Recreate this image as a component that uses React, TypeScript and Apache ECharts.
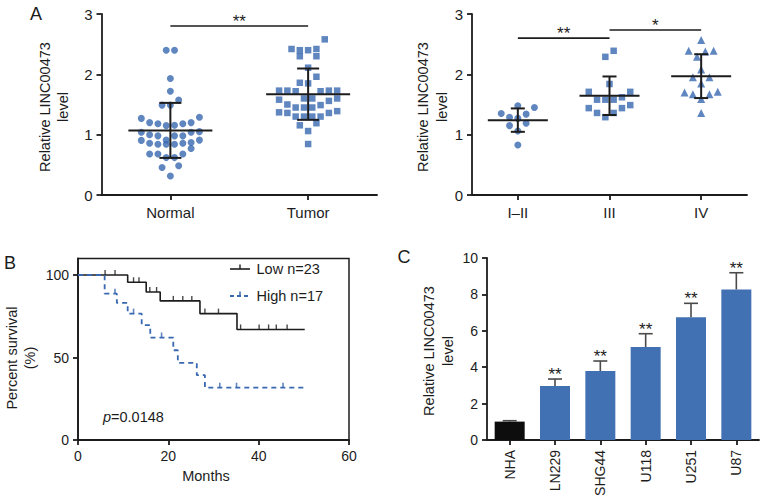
import React, { useEffect, useRef } from "react";
import * as echarts from "echarts";

// ---------- Panel A (left): Normal vs Tumor ----------
const groupNames = ["Normal", "Tumor"];
const normalValues = [
  2.4, 2.4, 1.93, 1.72, 1.575, 1.49, 1.49, 1.29, 1.27, 1.2, 1.2, 1.18, 1.18, 1.155, 1.15,
  1.05, 1.04, 1.04, 1.0, 0.98, 0.98, 0.98, 0.91, 0.91, 0.905, 0.87, 0.857, 0.857, 0.84,
  0.84, 0.84, 0.77, 0.68, 0.68, 0.68, 0.62, 0.62, 0.486, 0.455, 0.315,
];
const tumorValues = [
  2.58, 2.42, 2.4, 2.4, 2.42, 2.3, 2.3, 2.11, 1.96, 1.86, 1.85, 1.73, 1.73, 1.72, 1.72,
  1.73, 1.73, 1.56, 1.6, 1.6, 1.6, 1.58, 1.49, 1.45, 1.45, 1.45, 1.5, 1.39, 1.37, 1.36,
  1.3, 1.3, 1.3, 1.3, 1.36, 1.155, 1.19, 1.06, 0.845,
];
const sigLeft = [[1, 2, 2.8]];
const sigLeftStars = ["**"];

// ---------- Panel A (right): stages ----------
const stageNames = ["I\u2013II", "III", "IV"];
const stage12Values = [1.48, 1.45, 1.35, 1.34, 1.29, 1.27, 1.19, 1.15, 1.06, 0.83];
const stage3Values = [2.39, 2.29, 1.84, 1.71, 1.71, 1.58, 1.58, 1.58, 1.62, 1.49, 1.44, 1.44, 1.36, 1.36, 1.29];
const stage4Values = [2.57, 2.39, 2.38, 2.39, 2.29, 2.08, 1.95, 1.95, 1.85, 1.71, 1.67, 1.67, 1.7, 1.59, 1.36];
const sigRight = [[1, 2, 2.6], [2, 3, 2.735]];
const sigRightStars = ["**", "*"];

// ---------- Panel B: Kaplan-Meier ----------
const lowName = "Low n=23";
const highName = "High n=17";
const lowSteps = [[0, 100], [11, 95.6], [15.1, 89.7], [18.2, 84.3], [27, 76.6], [35.2, 67], [50.2, 67]];
const lowCensored = [6, 8.2, 12.3, 13.5, 15.9, 17.4, 21.1, 23.2, 25.2, 28.1, 31.1, 36.0, 40.1, 42.2, 43.9, 46.3];
const highSteps = [
  [0, 100], [5.9, 88.7], [8.6, 83.1], [11, 76.6], [14.1, 69.6], [16, 62.1], [21.1, 54.4],
  [22.1, 46.8], [26.3, 39.3], [28.1, 31.7], [50.2, 31.7],
];
const highCensored = [8.2, 12.3, 18.5, 31.4, 35.1, 45.4];
const pValueText = "=0.0148";

// ---------- Panel C: cell lines ----------
const cellNames = ["NHA", "LN229", "SHG44", "U118", "U251", "U87"];
const cellValues = [1.01, 2.97, 3.79, 5.11, 6.74, 8.27];
const cellErrors = [0.05, 0.38, 0.55, 0.73, 0.77, 0.92];
const cellStars = ["", "**", "**", "**", "**", "**"];

const FONT = "Liberation Sans, Arial, Helvetica, sans-serif";
const BLUE = "#3868b0";
const BAR_BLUE = "#4271b3";
const INK = "#1c1c1c";
const STAR_SIZE = 17;

// layout of the plot areas (px)
const gA1 = { left: 101.5, top: 14, width: 275.5, height: 181 };
const gA2 = { left: 472, top: 14, width: 275, height: 181 };
const gB = { left: 78, top: 258.5, width: 271, height: 181.5 };
const gC = { left: 487, top: 258, width: 272, height: 182 };

function mean(a: number[]) {
  return a.reduce((s, v) => s + v, 0) / a.length;
}
function sd(a: number[]) {
  const m = mean(a);
  return Math.sqrt(a.reduce((s, v) => s + (v - m) * (v - m), 0) / (a.length - 1));
}

// Row-based dot-plot layout (like a column scatter plot)
function swarmOffsets(values: number[], pxPerY: number, pxPerX: number, d: number, maxRow: number) {
  const idx = values.map((_, i) => i).sort((a, b) => values[a] - values[b]);
  const rows: number[][] = [];
  let cur: number[] = [];
  let start = -Infinity;
  for (const i of idx) {
    if (cur.length && cur.length < maxRow && (values[i] - start) * pxPerY < d * 1.5) cur.push(i);
    else {
      if (cur.length) rows.push(cur);
      cur = [i];
      start = values[i];
    }
  }
  if (cur.length) rows.push(cur);
  const off = new Array(values.length).fill(0);
  for (const row of rows) {
    const n = row.length;
    const slots = Array.from({ length: n }, (_, k) => (k - (n - 1) / 2) * d);
    slots.sort((a, b) => Math.abs(a) - Math.abs(b) || a - b);
    row.forEach((i, k) => {
      off[i] = slots[k] / pxPerX;
    });
  }
  return off;
}

function dots(values: number[], center: number, pxPerY: number, pxPerX: number) {
  const off = swarmOffsets(values, pxPerY, pxPerX, 8.3, 8);
  return values.map((v, i) => [center + off[i], v]);
}

function survivalAt(steps: number[][], t: number) {
  let s = steps[0][1];
  for (const [x, y] of steps) if (x <= t) s = y;
  return s;
}

const axisLineStyle = { color: INK, width: 1.8 };
const labelStyle = { color: INK, fontSize: 14, fontFamily: FONT };

function meanSdSeries(xi: number, groups: number[][], halfW: number, cap: number) {
  return {
    type: "custom",
    xAxisIndex: xi,
    yAxisIndex: xi,
    z: 5,
    data: groups.map((g, i) => [i + 1, mean(g), sd(g)]),
    renderItem: (_p: any, api: any) => {
      const c = api.value(0), m = api.value(1), s = api.value(2);
      const pm = api.coord([c, m]);
      const pt = api.coord([c, m + s]);
      const pb = api.coord([c, m - s]);
      const st = { stroke: INK, lineWidth: 2 };
      return {
        type: "group",
        children: [
          { type: "line", shape: { x1: pm[0] - halfW, y1: pm[1], x2: pm[0] + halfW, y2: pm[1] }, style: st },
          { type: "line", shape: { x1: pt[0], y1: pt[1], x2: pb[0], y2: pb[1] }, style: st },
          { type: "line", shape: { x1: pt[0] - cap, y1: pt[1], x2: pt[0] + cap, y2: pt[1] }, style: st },
          { type: "line", shape: { x1: pb[0] - cap, y1: pb[1], x2: pb[0] + cap, y2: pb[1] }, style: st },
        ],
      };
    },
  };
}

function sigSeries(xi: number, data: number[][], stars: string[]) {
  return {
    type: "custom",
    xAxisIndex: xi,
    yAxisIndex: xi,
    z: 5,
    clip: false,
    data,
    renderItem: (p: any, api: any) => {
      const a = api.coord([api.value(0), api.value(2)]);
      const b = api.coord([api.value(1), api.value(2)]);
      return {
        type: "group",
        children: [
          { type: "line", shape: { x1: a[0], y1: a[1], x2: b[0], y2: b[1] }, style: { stroke: INK, lineWidth: 1.6 } },
          {
            type: "text",
            x: (a[0] + b[0]) / 2,
            y: a[1] + 4,
            style: { text: stars[p.dataIndex], fontSize: STAR_SIZE, fontFamily: FONT, fill: INK, align: "center", verticalAlign: "bottom" },
          },
        ],
      };
    },
  };
}

function categoryValueAxis(gi: number, names: string[]) {
  const vals = names.map((_, i) => i + 1);
  return {
    gridIndex: gi,
    type: "value",
    min: 0.5,
    max: names.length + 0.5,
    axisLine: { show: true, lineStyle: axisLineStyle },
    axisTick: { show: true, length: 5, customValues: vals, lineStyle: axisLineStyle },
    axisLabel: { ...labelStyle, fontSize: 15, margin: 10, customValues: vals, formatter: (v: number) => names[Math.round(v) - 1] ?? "" },
    splitLine: { show: false },
  };
}

function relYAxis(gi: number) {
  return {
    gridIndex: gi,
    type: "value",
    min: 0,
    max: 3,
    interval: 1,
    axisLine: { show: true, lineStyle: axisLineStyle },
    axisTick: { show: true, length: 5, lineStyle: axisLineStyle },
    axisLabel: { ...labelStyle, fontSize: 15, margin: 9 },
    splitLine: { show: false },
  };
}

function vText(x: number, y: number, text: string) {
  return {
    type: "text",
    x,
    y,
    rotation: Math.PI / 2,
    style: { text, fontSize: 14.5, fontFamily: FONT, fill: INK, align: "center", verticalAlign: "middle", lineHeight: 18.5 },
  };
}

export default function App() {
  const ref = useRef<HTMLDivElement>(null);
  useEffect(() => {
    if (!ref.current) return;
    const chart = echarts.init(ref.current, undefined, { renderer: "svg" });

    const pyA1 = gA1.height / 3;
    const pxA1 = gA1.width / 2;
    const pyA2 = gA2.height / 3;
    const pxA2 = gA2.width / 3;

    const option: any = {
      animation: false,
      backgroundColor: "#ffffff",
      textStyle: { fontFamily: FONT },
      grid: [
        { ...gA1 },
        { ...gA2 },
        { ...gB, show: true, borderColor: INK, borderWidth: 1.5, backgroundColor: "transparent" },
        { ...gC },
      ],
      xAxis: [
        categoryValueAxis(0, groupNames),
        categoryValueAxis(1, stageNames),
        {
          gridIndex: 2,
          type: "value",
          min: 0,
          max: 60,
          interval: 20,
          axisLine: { show: true, lineStyle: axisLineStyle },
          axisTick: { show: true, length: 5, lineStyle: axisLineStyle },
          axisLabel: { ...labelStyle, margin: 9 },
          splitLine: { show: false },
        },
        {
          gridIndex: 3,
          type: "category",
          data: cellNames,
          axisLine: { show: true, lineStyle: axisLineStyle },
          axisTick: { show: true, length: 5, alignWithLabel: true, lineStyle: axisLineStyle },
          axisLabel: { ...labelStyle, rotate: 90, margin: 10, interval: 0 },
          splitLine: { show: false },
        },
      ],
      yAxis: [
        relYAxis(0),
        relYAxis(1),
        {
          gridIndex: 2,
          type: "value",
          min: 0,
          max: 110,
          axisLine: { show: true, lineStyle: axisLineStyle },
          axisTick: { show: true, length: 5, customValues: [0, 50, 100], lineStyle: axisLineStyle },
          axisLabel: { ...labelStyle, margin: 9, customValues: [0, 50, 100] },
          splitLine: { show: false },
        },
        {
          gridIndex: 3,
          type: "value",
          min: 0,
          max: 10,
          interval: 2,
          axisLine: { show: true, lineStyle: axisLineStyle },
          axisTick: { show: true, length: 5, lineStyle: axisLineStyle },
          axisLabel: { ...labelStyle, margin: 9 },
          splitLine: { show: false },
        },
      ],
      series: [
        {
          type: "scatter",
          xAxisIndex: 0,
          yAxisIndex: 0,
          symbol: "circle",
          symbolSize: 7,
          itemStyle: { color: BLUE },
          data: dots(normalValues, 1, pyA1, pxA1),
        },
        {
          type: "scatter",
          xAxisIndex: 0,
          yAxisIndex: 0,
          symbol: "rect",
          symbolSize: 6.5,
          itemStyle: { color: BLUE },
          data: dots(tumorValues, 2, pyA1, pxA1),
        },
        meanSdSeries(0, [normalValues, tumorValues], 42, 11),
        sigSeries(0, sigLeft, sigLeftStars),
        {
          type: "scatter",
          xAxisIndex: 1,
          yAxisIndex: 1,
          symbol: "circle",
          symbolSize: 7,
          itemStyle: { color: BLUE },
          data: dots(stage12Values, 1, pyA2, pxA2),
        },
        {
          type: "scatter",
          xAxisIndex: 1,
          yAxisIndex: 1,
          symbol: "rect",
          symbolSize: 6.5,
          itemStyle: { color: BLUE },
          data: dots(stage3Values, 2, pyA2, pxA2),
        },
        {
          type: "scatter",
          xAxisIndex: 1,
          yAxisIndex: 1,
          symbol: "triangle",
          symbolSize: 8,
          itemStyle: { color: BLUE },
          data: dots(stage4Values, 3, pyA2, pxA2),
        },
        meanSdSeries(1, [stage12Values, stage3Values, stage4Values], 30, 7),
        sigSeries(1, sigRight, sigRightStars),
        {
          name: lowName,
          type: "line",
          xAxisIndex: 2,
          yAxisIndex: 2,
          step: "end",
          showSymbol: false,
          symbol: "none",
          lineStyle: { color: INK, width: 1.6 },
          data: lowSteps,
        },
        {
          name: highName,
          type: "line",
          xAxisIndex: 2,
          yAxisIndex: 2,
          step: "end",
          showSymbol: false,
          symbol: "none",
          lineStyle: { color: BLUE, width: 1.8, type: [5, 4] },
          data: highSteps,
        },
        {
          type: "scatter",
          xAxisIndex: 2,
          yAxisIndex: 2,
          symbol: "rect",
          symbolSize: [1.4, 5],
          symbolOffset: [0, -2.5],
          itemStyle: { color: INK },
          data: lowCensored.map((t) => [t, survivalAt(lowSteps, t)]),
        },
        {
          type: "scatter",
          xAxisIndex: 2,
          yAxisIndex: 2,
          symbol: "rect",
          symbolSize: [1.6, 5],
          symbolOffset: [0, -2.5],
          itemStyle: { color: BLUE },
          data: highCensored.map((t) => [t, survivalAt(highSteps, t)]),
        },
        {
          type: "bar",
          xAxisIndex: 3,
          yAxisIndex: 3,
          barWidth: 30,
          data: cellValues.map((v, i) => ({ value: v, itemStyle: { color: i === 0 ? "#0d0d0d" : BAR_BLUE } })),
        },
        {
          type: "custom",
          xAxisIndex: 3,
          yAxisIndex: 3,
          z: 5,
          clip: false,
          data: cellValues.map((v, i) => [i, v, cellErrors[i]]),
          renderItem: (p: any, api: any) => {
            const top = api.coord([api.value(0), api.value(1)]);
            const tip = api.coord([api.value(0), api.value(1) + api.value(2)]);
            const st = { stroke: "#4a4a4a", lineWidth: 1.6 };
            const children: any[] = [
              { type: "line", shape: { x1: top[0], y1: top[1], x2: tip[0], y2: tip[1] }, style: st },
              { type: "line", shape: { x1: tip[0] - 7, y1: tip[1], x2: tip[0] + 7, y2: tip[1] }, style: st },
            ];
            const s = cellStars[p.dataIndex];
            if (s)
              children.push({
                type: "text",
                x: tip[0],
                y: tip[1] + 4,
                style: { text: s, fontSize: STAR_SIZE, fontFamily: FONT, fill: INK, align: "center", verticalAlign: "bottom" },
              });
            return { type: "group", children };
          },
        },
      ],
      graphic: [
        { type: "text", x: 36, y: 14, style: { text: "A", fontSize: 18, fontFamily: FONT, fill: INK, align: "center", verticalAlign: "middle" } },
        { type: "text", x: 10, y: 263, style: { text: "B", fontSize: 18, fontFamily: FONT, fill: INK, align: "center", verticalAlign: "middle" } },
        { type: "text", x: 404, y: 257, style: { text: "C", fontSize: 18, fontFamily: FONT, fill: INK, align: "center", verticalAlign: "middle" } },
        vText(54, 107, "Relative LINC00473\nlevel"),
        vText(432.5, 107, "Relative LINC00473\nlevel"),
        vText(21, 358, "Percent survival\n(%)"),
        vText(438.5, 351, "Relative LINC00473\nlevel"),
        {
          type: "text",
          x: 206,
          y: 476,
          style: { text: "Months", fontSize: 14.5, fontFamily: FONT, fill: INK, align: "center", verticalAlign: "middle" },
        },
        {
          type: "text",
          x: 103,
          y: 417,
          style: {
            text: "{i|p}" + pValueText,
            fontSize: 14.5,
            fontFamily: FONT,
            fill: INK,
            align: "left",
            verticalAlign: "middle",
            rich: { i: { fontStyle: "italic", fontSize: 14.5, fontFamily: FONT, fill: INK } },
          },
        },
        // legend of panel B
        { type: "line", shape: { x1: 230, y1: 269, x2: 250, y2: 269 }, style: { stroke: INK, lineWidth: 1.6 } },
        { type: "line", shape: { x1: 240, y1: 269, x2: 240, y2: 264.5 }, style: { stroke: INK, lineWidth: 1.4 } },
        { type: "text", x: 256.5, y: 269, style: { text: lowName, fontSize: 14.5, fontFamily: FONT, fill: INK, align: "left", verticalAlign: "middle" } },
        { type: "line", shape: { x1: 230, y1: 296, x2: 251, y2: 296 }, style: { stroke: BLUE, lineWidth: 1.8, lineDash: [4, 3] } },
        { type: "line", shape: { x1: 240, y1: 296, x2: 240, y2: 291.5 }, style: { stroke: BLUE, lineWidth: 1.5 } },
        { type: "text", x: 256.5, y: 296, style: { text: highName, fontSize: 14.5, fontFamily: FONT, fill: INK, align: "left", verticalAlign: "middle" } },
      ],
    };
    chart.setOption(option);
    return () => chart.dispose();
  }, []);
  return <div ref={ref} style={{ position: "fixed", left: 0, top: 0, width: 765, height: 504, background: "#fff" }} />;
}
